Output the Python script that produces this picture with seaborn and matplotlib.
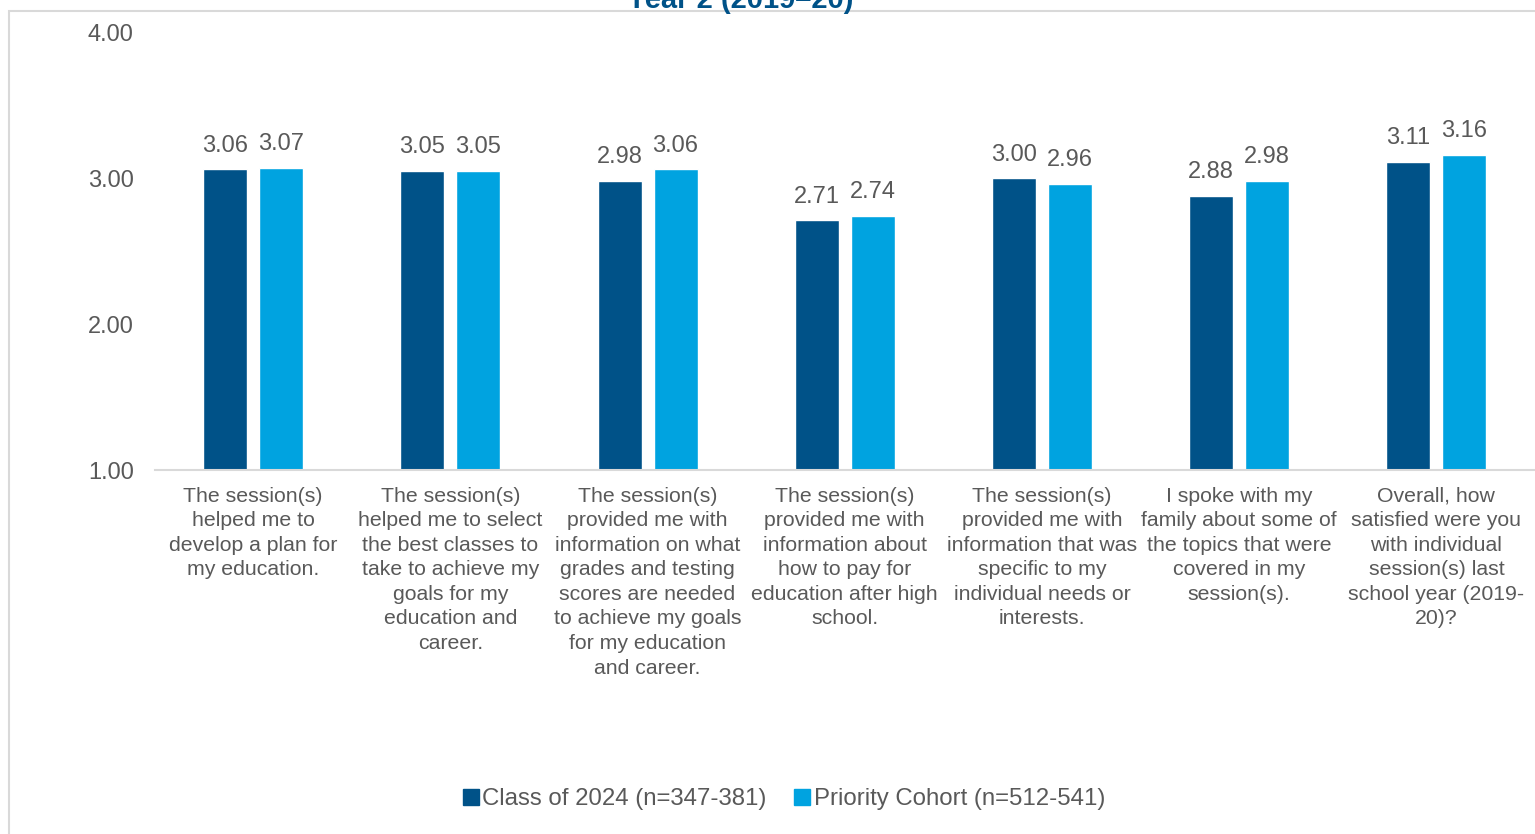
import matplotlib
matplotlib.use("Agg")
import matplotlib.pyplot as plt
import seaborn as sns
import pandas as pd
from matplotlib.patches import Rectangle
from matplotlib.ticker import FormatStrFormatter

categories = [
    "The session(s)\nhelped me to\ndevelop a plan for\nmy education.",
    "The session(s)\nhelped me to select\nthe best classes to\ntake to achieve my\ngoals for my\neducation and\ncareer.",
    "The session(s)\nprovided me with\ninformation on what\ngrades and testing\nscores are needed\nto achieve my goals\nfor my education\nand career.",
    "The session(s)\nprovided me with\ninformation about\nhow to pay for\neducation after high\nschool.",
    "The session(s)\nprovided me with\ninformation that was\nspecific to my\nindividual needs or\ninterests.",
    "I spoke with my\nfamily about some of\nthe topics that were\ncovered in my\nsession(s).",
    "Overall, how\nsatisfied were you\nwith individual\nsession(s) last\nschool year (2019-\n20)?",
]
series_names = ["Class of 2024 (n=347-381)", "Priority Cohort (n=512-541)"]
class_2024 = [3.06, 3.05, 2.98, 2.71, 3.00, 2.88, 3.11]
priority = [3.07, 3.05, 3.06, 2.74, 2.96, 2.98, 3.16]
yticks = [1.0, 2.0, 3.0, 4.0]
title = "Year 2 (2019\u201320)"

colors = ["#005288", "#00A3E0"]
text_color = "#595959"

rows = []
for c, a, b in zip(categories, class_2024, priority):
    rows.append({"cat": c, "series": series_names[0], "value": a})
    rows.append({"cat": c, "series": series_names[1], "value": b})
df = pd.DataFrame(rows)

sns.set_theme(style="white")
plt.rcParams["font.family"] = ["Liberation Sans", "DejaVu Sans"]

W, H = 1535, 834
fig = plt.figure(figsize=(W / 100, H / 100), dpi=100)
ax = fig.add_axes([154.5 / W, 1 - 470 / H, 1 - 154.5 / W, (470 - 32) / H])

sns.barplot(data=df, x="cat", y="value", hue="series", order=categories,
            hue_order=series_names, palette=colors, saturation=1,
            width=0.5676, gap=0.214, ax=ax, legend=True)

ax.set_ylim(1, 4)
ax.set_xlim(-0.5, len(categories) - 0.5)
ax.set_yticks(yticks)
ax.yaxis.set_major_formatter(FormatStrFormatter("%.2f"))
ax.set_xlabel("")
ax.set_ylabel("")
for s in ["top", "right", "left"]:
    ax.spines[s].set_visible(False)
ax.spines["bottom"].set_color("#D9D9D9")
ax.spines["bottom"].set_linewidth(1.5)
ax.tick_params(axis="both", length=0, labelcolor=text_color)
ax.tick_params(axis="y", pad=15, labelsize=17)
ax.tick_params(axis="x", pad=12)
ax.set_xticks(range(len(categories)))
ax.set_xticklabels(categories, fontsize=15.3, linespacing=1.37, color=text_color)

for cont in ax.containers:
    ax.bar_label(cont, fmt="%.2f", padding=9, fontsize=17, color=text_color)

ax.legend_.remove()
handles = [Rectangle((0, 0), 1, 1, color=c) for c in colors]
fig.legend(handles, series_names, loc="center", bbox_to_anchor=(784 / W, 1 - 799 / H),
           ncol=2, frameon=False, fontsize=17.3, handlelength=0.65, handleheight=0.65,
           handletextpad=0.15, columnspacing=1.16, labelcolor=text_color)

# outer frame
fig.add_artist(Rectangle((9 / W, -0.01), 1.0, 1 - 11 / H + 0.01, transform=fig.transFigure,
                         fill=False, edgecolor="#D9D9D9", linewidth=1.5))
fig.text(740 / W, 1 - 8 / H, title, ha="center", va="baseline", fontsize=21,
         fontweight="bold", color="#005288")

fig.savefig("out.png", dpi=100)
